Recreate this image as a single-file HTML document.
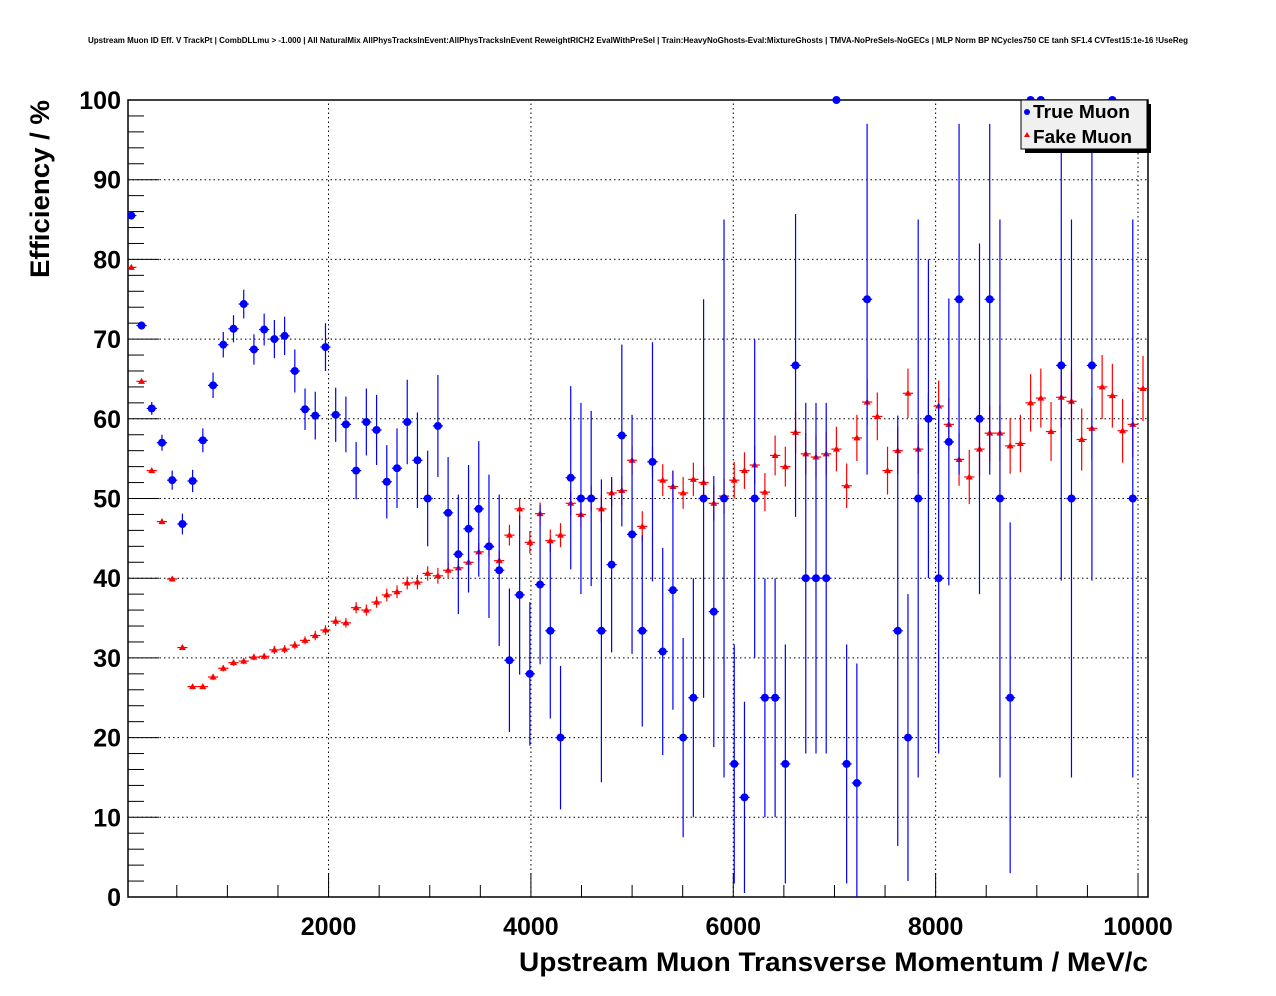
<!DOCTYPE html>
<html><head><meta charset="utf-8"><style>
body{margin:0;background:#fff;}
svg{display:block;font-family:"Liberation Sans",sans-serif;}
</style></head><body>
<svg id="c" width="1276" height="996">
<text x="638" y="43" font-size="7.8" font-weight="bold" text-anchor="middle" textLength="1100" lengthAdjust="spacingAndGlyphs">Upstream Muon ID Eff. V TrackPt | CombDLLmu &gt; -1.000 | All NaturalMix AllPhysTracksInEvent:AllPhysTracksInEvent ReweightRICH2 EvalWithPreSel | Train:HeavyNoGhosts-Eval:MixtureGhosts | TMVA-NoPreSels-NoGECs | MLP Norm BP NCycles750 CE tanh SF1.4 CVTest15:1e-16 !UseReg</text>
<defs><clipPath id="pc"><rect x="128" y="96" width="1022" height="802"/></clipPath></defs>
<g id="grid"></g>
<g id="axes"></g>
<g id="marks" clip-path="url(#pc)"></g>
<text x="1148" y="971" font-size="27" font-weight="bold" text-anchor="end" textLength="629" lengthAdjust="spacingAndGlyphs">Upstream Muon Transverse Momentum / MeV/c</text>
<text transform="translate(49,278) rotate(-90)" font-size="27" font-weight="bold" textLength="178" lengthAdjust="spacingAndGlyphs">Efficiency / %</text>
<g>
<rect x="1025" y="104" width="126" height="49" fill="#000"/>
<rect x="1021" y="100" width="126" height="49" fill="#f0f0f0" stroke="#000" stroke-width="1"/>
<circle cx="1027" cy="112" r="3" fill="#00f"/>
<text x="1033" y="118" font-size="18" font-weight="bold" textLength="97" lengthAdjust="spacingAndGlyphs">True Muon</text>
<polygon points="1027,132 1030,137 1024,137" fill="#f00"/>
<text x="1033" y="143" font-size="18" font-weight="bold" textLength="99" lengthAdjust="spacingAndGlyphs">Fake Muon</text>
</g>
</svg>
<script>
const binCenters=[];for(let i=0;i<100;i++)binCenters.push(50.5+101*i);
const binHalfWidth=50.5;
const trueVals=[85.5,71.7,61.3,57.0,52.3,46.8,52.2,57.3,64.2,69.3,71.3,74.4,68.7,71.2,70.0,70.4,66.0,61.2,60.4,69.0,60.5,59.3,53.5,59.6,58.6,52.1,53.8,59.6,54.8,50.0,59.1,48.2,43.0,46.2,48.7,44.0,41.0,29.7,37.9,28.0,39.2,33.4,20.0,52.6,50.0,50.0,33.4,41.7,57.9,45.5,33.4,54.6,30.8,38.5,20.0,25.0,50.0,35.8,50.0,16.7,12.5,50.0,25.0,25.0,16.7,66.7,40,40,40,100,16.7,14.3,75,null,null,33.4,20,50,60,40,57.1,75,null,60,75,50,25,null,100,100,null,66.7,50,null,66.7,null,100,null,50,null];
const trueErrs=[0.5,0.5,0.8,1,1.2,1.3,1.4,1.5,1.6,1.6,1.7,1.8,1.9,2,2.4,2.4,2.7,2.6,3,3,3.4,3.5,3.6,4.2,4.4,4.6,5,5.3,6,6,6.4,7,7.5,8,8.5,9,9.5,9,10,9,10,11,9,11.5,12,11,19,11,11.4,15,12,15,13,15,12.5,15,25,17,35,15,12,20,15,15,15,19,22,22,22,0,15,15,22,0,0,27,18,35,20,22,18,22,0,22,22,35,22,0,0,0,0,27,35,0,27,0,0,0,35,0];
const fakeVals=[79.0,64.7,53.5,47.1,39.9,31.3,26.4,26.4,27.6,28.7,29.4,29.6,30.1,30.2,31.0,31.1,31.6,32.2,32.8,33.5,34.6,34.4,36.3,36.0,37.0,37.9,38.3,39.4,39.5,40.6,40.3,41.0,41.3,42.0,43.3,43.9,42.2,45.4,48.7,44.5,48.1,44.7,45.4,49.4,48.0,50.0,48.7,50.7,51.0,54.8,46.5,54.6,52.3,51.5,50.7,52.4,52.0,49.4,50.3,52.3,53.5,54.2,50.8,55.4,54.0,58.3,55.6,55.2,55.6,56.2,51.6,57.6,62.1,60.3,53.5,56.0,63.2,56.2,60.0,61.6,59.3,54.9,52.7,56.2,58.2,58.2,56.6,56.9,62.0,62.6,58.4,62.7,62.2,57.4,58.8,64.0,62.9,58.5,59.3,63.8];
const fakeErrs=[0.3,0.3,0.3,0.3,0.3,0.3,0.3,0.3,0.4,0.4,0.4,0.4,0.4,0.4,0.5,0.5,0.5,0.5,0.6,0.6,0.6,0.6,0.7,0.7,0.7,0.8,0.8,0.8,0.9,0.9,1,1,1,1.1,1.1,1.2,1.2,1.3,1.3,1.4,1.4,1.4,1.5,1.5,1.6,1.6,1.7,1.7,1.8,1.8,1.9,1.9,2,2,2,2.1,2.1,2.2,2.2,2.3,2.3,2.4,2.4,2.5,2.5,2.6,2.6,2.7,2.7,2.8,2.8,2.9,2.9,3,3,3,3.1,3.1,3.2,3.2,3.3,3.3,3.4,3.4,3.5,3.5,3.5,3.6,3.6,3.7,3.7,3.8,3.8,3.9,3.9,4,4,4,4.1,4.1];
const xTickLabels=["2000","4000","6000","8000","10000"];
const yTickLabels=["0","10","20","30","40","50","60","70","80","90","100"];
const NS="http://www.w3.org/2000/svg";
const X0=128,X1=1148,Y0=897,Y1=100;
const xs=v=>126.2+v*0.10118;
const ys=v=>Y0-(v/100)*(Y0-Y1);
function mk(tag,attrs,parent){const e=document.createElementNS(NS,tag);for(const k in attrs)e.setAttribute(k,attrs[k]);parent.appendChild(e);return e;}
const grid=document.getElementById('grid'),axes=document.getElementById('axes'),marks=document.getElementById('marks');
yTickLabels.forEach(t=>{const v=+t;if(v>0&&v<100){const l=mk('line',{x1:X0,x2:X1,y1:ys(v),y2:ys(v),stroke:'#000','stroke-dasharray':'1.5,3','stroke-width':1},grid);

}});
xTickLabels.forEach(t=>{const v=+t;const l=mk('line',{x1:xs(v),x2:xs(v),y1:Y0,y2:Y1,stroke:'#000','stroke-dasharray':'1.5,3','stroke-width':1},grid);

});
const fr=mk('rect',{x:X0,y:Y1,width:X1-X0,height:Y0-Y1,fill:'none',stroke:'#000','stroke-width':1.5},axes);


for(let v=0;v<=100;v+=2){const major=v%10===0;mk('line',{x1:X0,x2:X0+(major?31:16),y1:ys(v),y2:ys(v),stroke:'#000','stroke-width':1},axes);}
yTickLabels.forEach(t=>{const e=mk('text',{x:121,y:ys(+t)+9,'font-size':25,'font-weight':'bold','text-anchor':'end'},axes);e.textContent=t;

});
for(let v=500;v<=10000;v+=500){const major=v%2000===0;mk('line',{x1:xs(v),x2:xs(v),y1:Y0,y2:Y0-(major?24:12),stroke:'#000','stroke-width':1},axes);}
xTickLabels.forEach(t=>{const e=mk('text',{x:xs(+t),y:935,'font-size':25,'font-weight':'bold','text-anchor':'middle'},axes);e.textContent=t;

});
function drawSeries(vals,errs,color,shape,name){
  vals.forEach((v,i)=>{if(v===null)return;const cx=xs(binCenters[i]),cy=ys(v);
    const g=mk('g',{},marks);
    
    
    mk('line',{x1:xs(binCenters[i]-binHalfWidth),x2:xs(binCenters[i]+binHalfWidth),y1:cy,y2:cy,stroke:color,'stroke-width':1.2},g);
    if(errs[i]>0)mk('line',{x1:cx,x2:cx,y1:ys(Math.min(v+errs[i],100)),y2:ys(Math.max(v-errs[i],0)),stroke:color,'stroke-width':1.2},g);
    if(shape==='c')mk('circle',{cx:cx,cy:cy,r:4,fill:color},g);
    else mk('polygon',{points:`${cx},${cy-3.5} ${cx+3.5},${cy+2.5} ${cx-3.5},${cy+2.5}`,fill:color},g);
  });
}
drawSeries(fakeVals,fakeErrs,'#f00','t','fake-muon');
drawSeries(trueVals,trueErrs,'#00f','c','true-muon');
</script>
</body></html>
